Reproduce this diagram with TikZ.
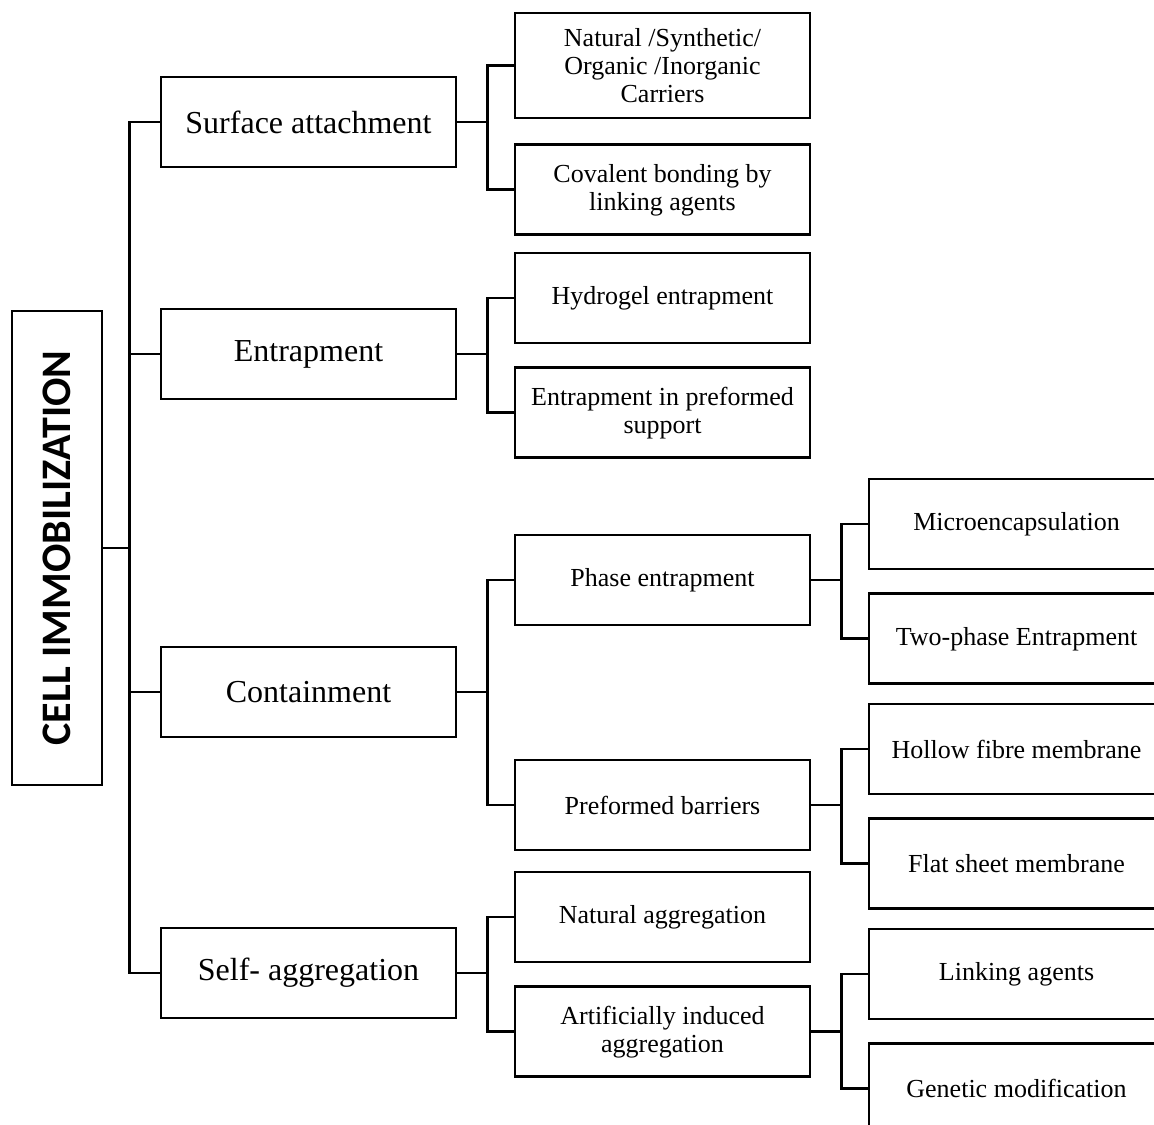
\documentclass[tikz,border=0pt]{standalone}
\usepackage{fontspec}
\setmainfont{Liberation Serif}
\newfontfamily\titlefont{Carlito}
\usepackage{tikz}
\usetikzlibrary{positioning}

\begin{document}
\begin{tikzpicture}[
    x=0.5pt, y=-0.5pt,
    node distance=11pt,
    line width=1.4pt,
    rootbox/.style={
        draw,
        rectangle,
        minimum width=45pt,
        minimum height=237pt,
        inner sep=0pt,
        font=\titlefont\bfseries\fontsize{21}{24}\selectfont
    },
    mainbox/.style={
        draw,
        rectangle,
        minimum width=147.5pt,
        minimum height=45pt,
        align=center,
        font=\fontsize{16}{19}\selectfont
    },
    subbox/.style={
        draw,
        rectangle,
        minimum width=147.5pt,
        minimum height=45pt,
        align=center,
        font=\fontsize{13}{14}\selectfont
    }
]
\useasboundingbox (0,0) rectangle (1154,1124);
\clip (0,0) rectangle (1154,1124);

\node[rootbox] (cell) at (57,548) {\rotatebox{90}{CELL IMMOBILIZATION}};

\node[mainbox] (surf) at (308.5,122) {Surface attachment};
\node[mainbox] (entrap) at (308.5,354) {Entrapment};
\node[mainbox] (contain) at (308.5,692) {Containment};
\node[mainbox] (selfagg) at (308.5,973) {Self- aggregation};

\node[subbox, minimum height=52.5pt] (carrier) at (662.5,65.5) {Natural /Synthetic/\\Organic /Inorganic\\Carriers};
\node[subbox, below=12pt of carrier] (covalent) {Covalent bonding by\\linking agents};
\node[subbox] (hydrogel) at (662.5,298) {Hydrogel entrapment};
\node[subbox, below=of hydrogel] (preformsup) {Entrapment in preformed\\support};
\node[subbox] (phase) at (662.5,580) {Phase entrapment};
\node[subbox] (barrier) at (662.5,805) {Preformed barriers};
\node[subbox] (natagg) at (662.5,917) {Natural aggregation};
\node[subbox, below=of natagg] (artagg) {Artificially induced\\aggregation};

\node[subbox] (microenc) at (1016.5,524) {Microencapsulation};
\node[subbox, below=of microenc] (twophase) {Two-phase Entrapment};
\node[subbox] (hollow) at (1016.5,749) {Hollow fibre membrane};
\node[subbox, below=of hollow] (flat) {Flat sheet membrane};
\node[subbox] (linking) at (1016.5,974) {Linking agents};
\node[subbox, below=of linking] (genetic) {Genetic modification};

% trunk
\draw (surf.west) -- ++(-30,0) |- (cell.east);
\draw (entrap.west) -- ++(-30,0) |- (cell.east);
\draw (contain.west) -- ++(-30,0) |- (cell.east);
\draw (selfagg.west) -- ++(-30,0) |- (cell.east);

% second level
\draw (surf.east) -- ++(30,0) |- (carrier.west);
\draw (surf.east) -- ++(30,0) |- (covalent.west);
\draw (entrap.east) -- ++(30,0) |- (hydrogel.west);
\draw (entrap.east) -- ++(30,0) |- (preformsup.west);
\draw (contain.east) -- ++(30,0) |- (phase.west);
\draw (contain.east) -- ++(30,0) |- (barrier.west);
\draw (selfagg.east) -- ++(30,0) |- (natagg.west);
\draw (selfagg.east) -- ++(30,0) |- (artagg.west);

% third level
\draw (phase.east) -- ++(30,0) |- (microenc.west);
\draw (phase.east) -- ++(30,0) |- (twophase.west);
\draw (barrier.east) -- ++(30,0) |- (hollow.west);
\draw (barrier.east) -- ++(30,0) |- (flat.west);
\draw (artagg.east) -- ++(30,0) |- (linking.west);
\draw (artagg.east) -- ++(30,0) |- (genetic.west);

\end{tikzpicture}
\end{document}
